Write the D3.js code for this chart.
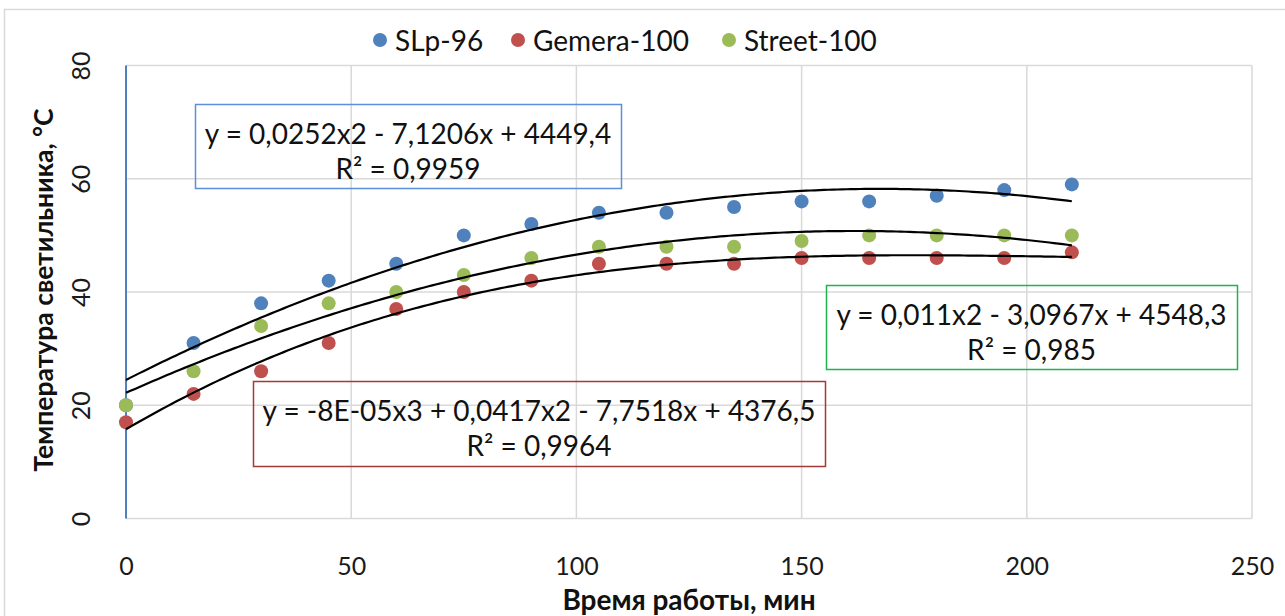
<!DOCTYPE html>
<html><head><meta charset="utf-8">
<script src="https://cdn.jsdelivr.net/npm/d3@7"></script>
<style>
html,body{margin:0;padding:0;background:#fff;}
svg{display:block;font-family:Lato,"Open Sans",sans-serif;}
</style></head>
<body>
<svg id="chart" width="1285" height="616"></svg>
<script>
const times = [0,15,30,45,60,75,90,105,120,135,150,165,180,195,210];
const slp96 = [20,31,38,42,45,50,52,54,54,55,56,56,57,58,59];
const gemera100 = [17,22,26,31,37,40,42,45,45,45,46,46,46,46,47];
const street100 = [20,26,34,38,40,43,46,48,48,48,49,50,50,50,50];
const seriesNames = ["SLp-96","Gemera-100","Street-100"];
const seriesColors = ["#4F81BD","#C0504D","#9BBB59"];
const trendDegrees = [2,3,2];
const xTicks = [0,50,100,150,200,250];
const yTicks = [0,20,40,60,80];
const eqLines = [
  ["y = 0,0252x2 - 7,1206x + 4449,4","R² = 0,9959"],
  ["y = -8E-05x3 + 0,0417x2 - 7,7518x + 4376,5","R² = 0,9964"],
  ["y = 0,011x2 - 3,0967x + 4548,3","R² = 0,985"]
];
const eqBorders = ["#5B8FD9","#A33A36","#1FB24F"];
const xTitle = "Время работы, мин";
const yTitle = "Температура светильника, °C";

const svg = d3.select("#chart");
const x = d3.scaleLinear().domain([0,250]).range([126,1252]);
const y = d3.scaleLinear().domain([0,80]).range([518.5,65.5]);

// outer chart frame
svg.append("rect").attr("x",4.5).attr("y",9.5).attr("width",1300).attr("height",700)
  .attr("fill","none").attr("stroke","#d9d9d9").attr("stroke-width",1.5);

// gridlines
svg.append("g").selectAll("line").data(yTicks).join("line")
  .attr("x1",x(0)).attr("x2",x(250)).attr("y1",d=>y(d)).attr("y2",d=>y(d))
  .attr("stroke","#d9d9d9").attr("stroke-width",1.5);
svg.append("g").selectAll("line").data(xTicks.slice(1)).join("line")
  .attr("x1",d=>x(d)).attr("x2",d=>x(d)).attr("y1",y(0)).attr("y2",y(80))
  .attr("stroke","#d9d9d9").attr("stroke-width",1.5);

// axes (text only) via d3 axis
const xAxis = svg.append("g").attr("transform",`translate(0,${y(0)})`)
  .call(d3.axisBottom(x).tickValues(xTicks).tickSize(0));
xAxis.select(".domain").remove();
xAxis.selectAll("text").attr("font-size",25).attr("fill","#1a1a1a").attr("font-family","Lato, sans-serif")
  .attr("y",46).attr("dy",null).attr("dominant-baseline","central");

const yAxis = svg.append("g").attr("transform",`translate(${x(0)},0)`)
  .call(d3.axisLeft(y).tickValues(yTicks).tickSize(0).tickPadding(0));
yAxis.select(".domain").remove();
yAxis.selectAll("text")
  .attr("font-size",25).attr("fill","#1a1a1a").attr("font-family","Lato, sans-serif")
  .attr("x",null).attr("dy",null)
  .attr("text-anchor","middle")
  .attr("transform",d=>`translate(-46,0) rotate(-90)`)
  .attr("dominant-baseline","central");

// y axis line (blue)
svg.append("line").attr("x1",x(0)).attr("x2",x(0)).attr("y1",y(80)).attr("y2",y(0))
  .attr("stroke","#4F81BD").attr("stroke-width",2);

// data
const allSeries = [slp96,gemera100,street100];
allSeries.forEach((vals,i)=>{
  svg.append("g").selectAll("circle").data(vals).join("circle")
    .attr("cx",(d,j)=>x(times[j])).attr("cy",d=>y(d)).attr("r",7)
    .attr("fill",seriesColors[i]);
});

// polynomial least squares fit
function polyfit(xs,ys,deg){
  const n=deg+1;
  const A=[...Array(n)].map(()=>Array(n+1).fill(0));
  for(let r=0;r<n;r++){
    for(let c=0;c<n;c++){A[r][c]=d3.sum(xs,v=>Math.pow(v,r+c));}
    A[r][n]=d3.sum(xs,(v,k)=>ys[k]*Math.pow(v,r));
  }
  for(let i=0;i<n;i++){
    let m=i; for(let k=i+1;k<n;k++) if(Math.abs(A[k][i])>Math.abs(A[m][i])) m=k;
    [A[i],A[m]]=[A[m],A[i]];
    for(let k=0;k<n;k++){ if(k===i) continue; const f=A[k][i]/A[i][i];
      for(let c=i;c<=n;c++) A[k][c]-=f*A[i][c]; }
  }
  return A.map((row,i)=>row[n]/row[i]);
}
const line = d3.line().x(d=>x(d[0])).y(d=>y(d[1])).curve(d3.curveLinear);
allSeries.forEach((vals,i)=>{
  const coef = polyfit(times,vals,trendDegrees[i]);
  const pts = d3.range(0,210.01,1).map(t=>[t,coef.reduce((s,c,k)=>s+c*Math.pow(t,k),0)]);
  svg.append("path").attr("d",line(pts)).attr("fill","none").attr("stroke","#000").attr("stroke-width",2.2);
});

// equation boxes
const boxes = [
  {x0:195,y0:104,w:426,h:84},
  {x0:253,y0:381,w:572,h:85},
  {x0:826,y0:285,w:411,h:84}
];
boxes.forEach((b,i)=>{
  const g = svg.append("g");
  g.append("rect").attr("x",b.x0+0.5).attr("y",b.y0+0.5).attr("width",b.w).attr("height",b.h)
    .attr("fill","none").attr("stroke",eqBorders[i]).attr("stroke-width",1.5);
  eqLines[i].forEach((t,k)=>{
    g.append("text").attr("x",b.x0+b.w/2).attr("y",b.y0+29+k*35)
      .attr("text-anchor","middle").attr("dominant-baseline","central")
      .attr("font-size",28).attr("fill","#111").text(t);
  });
});

// legend
const legendX = [380,518,729];
seriesNames.forEach((nm,i)=>{
  svg.append("circle").attr("cx",legendX[i]).attr("cy",40).attr("r",7).attr("fill",seriesColors[i]);
  svg.append("text").attr("x",legendX[i]+15).attr("y",40).attr("dominant-baseline","central")
    .attr("font-size",28).attr("fill","#111").text(nm);
});

// titles
svg.append("text").attr("x",689).attr("y",599).attr("text-anchor","middle").attr("dominant-baseline","central")
  .attr("font-size",28).attr("font-weight","bold").attr("fill","#111").text(xTitle);
svg.append("text").attr("transform","translate(43,290) rotate(-90)").attr("text-anchor","middle")
  .attr("dominant-baseline","central")
  .attr("font-size",26.5).attr("font-weight","bold").attr("fill","#111").text(yTitle);
</script>
</body></html>
